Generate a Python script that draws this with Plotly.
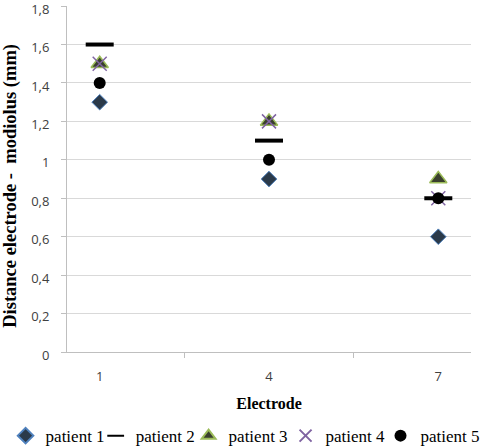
import plotly.graph_objects as go

electrodes = ["1", "4", "7"]
patient1 = [1.3, 0.9, 0.6]
patient2 = [1.6, 1.1, 0.8]
patient3 = [1.5, 1.2, 0.9]
patient4 = [1.5, 1.2, 0.8]
patient5 = [1.4, 1.0, 0.8]
y_ticks = [0, 0.2, 0.4, 0.6, 0.8, 1.0, 1.2, 1.4, 1.6, 1.8]
y_tick_labels = ["0", "0,2", "0,4", "0,6", "0,8", "1", "1,2", "1,4", "1,6", "1,8"]

SERIF = "Liberation Serif, Times New Roman, serif"

series = [
    ("patient 1", patient1, dict(symbol="diamond", size=12, color="#2B3A4A",
                                 line=dict(color="#4F81BD", width=1))),
    ("patient 2", patient2, dict(symbol="line-ew-open", size=20, color="black",
                                 line=dict(color="black", width=4))),
    ("patient 3", patient3, dict(symbol="triangle-up", size=15, color="#3A3F2E",
                                 line=dict(color="#9BBB59", width=1.5))),
    ("patient 4", patient4, dict(symbol="x-thin-open", size=14, color="#8064A2",
                                 line=dict(color="#8064A2", width=1.5))),
    ("patient 5", patient5, dict(symbol="circle", size=12, color="black",
                                 line=dict(color="black", width=0))),
]
# left edge (paper fraction) of each separate legend entry
legend_x = [-0.152, 0.071, 0.301, 0.541, 0.776]

fig = go.Figure()
legend_layout = {}
for i, (name, vals, marker) in enumerate(series):
    key = "legend" if i == 0 else f"legend{i + 1}"
    fig.add_trace(go.Scatter(x=electrodes, y=vals, mode="markers", name=name,
                             marker=marker, legend=key))
    legend_layout[key] = dict(
        orientation="h", x=legend_x[i], xanchor="left", y=-0.243, yanchor="middle",
        font=dict(family=SERIF, size=17, color="black"),
        itemsizing="constant", itemwidth=30, bgcolor="rgba(0,0,0,0)",
    )

fig.update_layout(
    width=484, height=448,
    margin=dict(l=67, r=13, t=6, b=96, autoexpand=False),
    plot_bgcolor="white", paper_bgcolor="white",
    showlegend=True,
    font=dict(family="Open Sans", color="#404040"),
    **legend_layout,
)
fig.update_xaxes(
    type="category", categoryorder="array", categoryarray=electrodes,
    showline=True, linecolor="#BFBFBF", linewidth=1,
    tickson="boundaries", ticks="outside", ticklen=5, tickcolor="#BFBFBF",
    ticklabelstandoff=12,
    showgrid=False, tickfont=dict(family="Open Sans", size=13, color="#404040"),
    automargin=False,
    title=dict(text="<b>Electrode</b>", font=dict(family=SERIF, size=16, color="black"),
               standoff=14),
)
fig.update_yaxes(
    range=[0, 1.8005], tickvals=y_ticks, ticktext=y_tick_labels,
    showline=True, linecolor="#BFBFBF", linewidth=1,
    ticks="outside", ticklen=5, tickcolor="#BFBFBF",
    ticklabelstandoff=9, ticklabeloverflow="allow", ticklabelshift=3,
    showgrid=True, gridcolor="#D9D9D9", gridwidth=1, zeroline=False,
    tickfont=dict(family="Open Sans", size=13, color="#404040"),
    automargin=False,
    title=dict(text="<b>Distance electrode -  modiolus (mm)\u00a0\u00a0\u00a0</b>",
               font=dict(family=SERIF, size=18.5, color="black"), standoff=9),
)
fig.write_html("out.html", config={"displayModeBar": False},
               post_script="document.body.style.margin='0';")
